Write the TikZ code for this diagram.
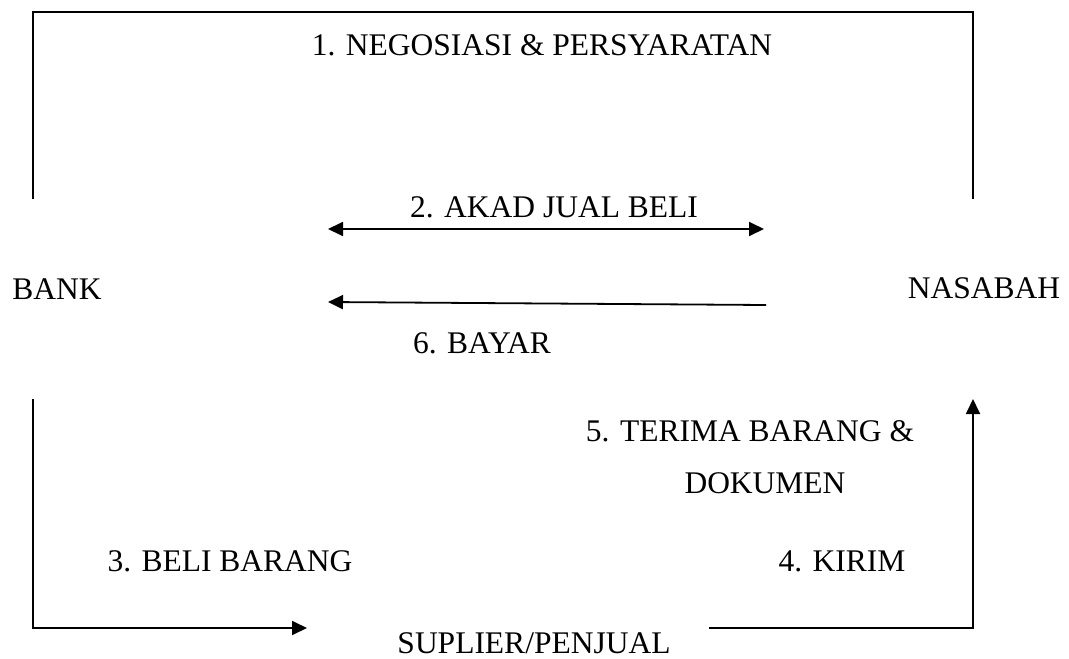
\documentclass[tikz,border=0pt]{standalone}
\usepackage{fontspec}
\setmainfont{Liberation Serif}
\usetikzlibrary{arrows.meta}
\begin{document}
\begin{tikzpicture}[x=1pt,y=-1pt,
  lbl/.style={anchor=base,inner sep=0pt,font=\fontsize{31.5}{36}\selectfont},
  conn/.style={line width=1.8pt,line cap=butt,line join=miter},
  arr/.style={conn,-{Triangle[length=15pt,width=14pt]}},
  darr/.style={conn,{Triangle[length=15pt,width=14pt]}-{Triangle[length=15pt,width=14pt]}}]
\useasboundingbox[fill=white] (0,0) rectangle (1069,659);
% party nodes
\node[lbl] (bank) at (57,299) {BANK};
\node[lbl] (nasabah) at (984,298) {NASABAH};
\node[lbl] (suplier) at (534,653) {SUPLIER/PENJUAL};
% labels
\node[lbl] (l1) at (542,55) {1. NEGOSIASI \& PERSYARATAN};
\node[lbl] (l2) at (554,217) {2. AKAD JUAL BELI};
\node[lbl] (l6) at (482,353) {6. BAYAR};
\node[lbl] (l5a) at (750,441) {5. TERIMA BARANG \&};
\node[lbl] (l5b) at (765,493) {DOKUMEN};
\node[lbl] (l3) at (230,571) {3. BELI BARANG};
\node[lbl] (l4) at (842,571) {4. KIRIM};
% connector end points
\coordinate (bankTop) at (33,199);
\coordinate (nasTop) at (973,199);
\coordinate (bankBot) at (33,399);
\coordinate (nasBot) at (973,399);
\coordinate (akadL) at (328,229);
\coordinate (akadR) at (764,229);
\coordinate (bayarR) at (766,305);
\coordinate (bayarL) at (328,302);
\coordinate (beliEnd) at (307,628);
\coordinate (kirimStart) at (709,628);
% 1. negosiasi
\draw[conn] (bankTop) -- (33,12) -- (973,12) -- (nasTop);
% 2. akad
\draw[darr] (akadL) -- (akadR);
% 6. bayar
\draw[arr] (bayarR) -- (bayarL);
% 3. beli barang
\draw[arr] (bankBot) |- (beliEnd);
% 4. kirim / 5. terima
\draw[arr] (kirimStart) -| (nasBot);
\end{tikzpicture}
\end{document}
